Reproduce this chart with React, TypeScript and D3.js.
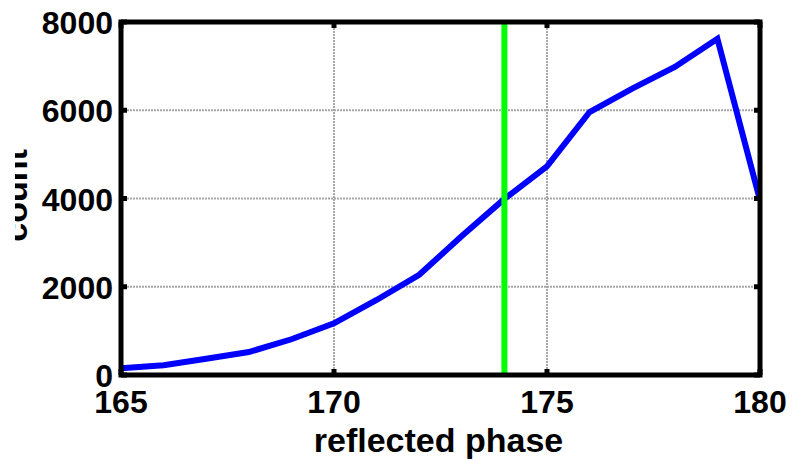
import React from "react";
import * as d3 from "d3";

// Histogram of reflected phase (degrees) and the per-degree counts
const phases = [165, 166, 167, 168, 169, 170, 171, 172, 173, 174, 175, 176, 177, 178, 179, 180];
const counts = [150, 220, 370, 520, 810, 1170, 1700, 2270, 3150, 3990, 4730, 5960, 6490, 6980, 7620, 3960];
const xTicks = [165, 170, 175, 180];
const yTicks = [0, 2000, 4000, 6000, 8000];
const marker = 174;

const W = 792;
const H = 462;
const M = { left: 121, top: 22, right: 32, bottom: 87 };
const FONT = "'Liberation Sans', Arial, Helvetica, sans-serif";

export default function App() {
  const x = d3.scaleLinear().domain([165, 180]).range([M.left, W - M.right]);
  const y = d3.scaleLinear().domain([0, 8000]).range([H - M.bottom, M.top]);
  const [x0, x1] = x.range();
  const [y0, y1] = y.range();

  const line = d3
    .line<number>()
    .x((_, i) => x(phases[i]))
    .y((d) => y(d));

  return (
    <svg
      width={W}
      height={H}
      style={{ position: "absolute", left: 0, top: 0, background: "#fff" }}
      fontFamily={FONT}
      fontWeight="bold"
    >
      <defs>
        <clipPath id="plotClip">
          <rect x={x0} y={y1} width={x1 - x0} height={y0 - y1} />
        </clipPath>
        <clipPath id="ylabClip">
          <rect x={15} y={0} width={W} height={H} />
        </clipPath>
      </defs>

      {/* dotted grid */}
      <g stroke="#a8a8a8" strokeWidth={2} strokeDasharray="2,1">
        {xTicks.slice(1, -1).map((t) => (
          <line key={"gx" + t} x1={x(t)} x2={x(t)} y1={y1} y2={y0} />
        ))}
        {yTicks.slice(1, -1).map((t) => (
          <line key={"gy" + t} x1={x0} x2={x1} y1={y(t)} y2={y(t)} />
        ))}
      </g>

      {/* counts curve */}
      <path
        d={line(counts) || ""}
        fill="none"
        stroke="#0000ff"
        strokeWidth={6}
        strokeLinejoin="miter"
        clipPath="url(#plotClip)"
      />

      {/* marker at selected phase */}
      <line x1={x(marker)} x2={x(marker)} y1={y1} y2={y0} stroke="#00ff00" strokeWidth={6} />

      {/* frame */}
      <rect x={x0} y={y1} width={x1 - x0} height={y0 - y1} fill="none" stroke="#000" strokeWidth={5} />

      {/* inward ticks */}
      <g stroke="#000" strokeWidth={5}>
        {xTicks.map((t) => (
          <g key={"tx" + t}>
            <line x1={x(t)} x2={x(t)} y1={y0} y2={y0 - 6} />
            <line x1={x(t)} x2={x(t)} y1={y1} y2={y1 + 6} />
          </g>
        ))}
        {yTicks.map((t) => (
          <g key={"ty" + t}>
            <line x1={x0} x2={x0 + 6} y1={y(t)} y2={y(t)} />
            <line x1={x1} x2={x1 - 6} y1={y(t)} y2={y(t)} />
          </g>
        ))}
      </g>

      {/* tick labels */}
      <g fontSize={32} fill="#000">
        {yTicks.map((t) => (
          <text key={"ly" + t} x={x0 - 8} y={y(t) + 12} textAnchor="end">
            {t}
          </text>
        ))}
        {xTicks.map((t) => (
          <text key={"lx" + t} x={x(t)} y={y0 + 38} textAnchor="middle">
            {t}
          </text>
        ))}
      </g>

      {/* axis titles */}
      <text x={(x0 + x1) / 2 - 2} y={452} fontSize={34} textAnchor="middle" fill="#000">
        reflected phase
      </text>
      <g clipPath="url(#ylabClip)">
        <text
          transform={`translate(27,${(y0 + y1) / 2 - 3}) rotate(-90)`}
          fontSize={34}
          textAnchor="middle"
          fill="#000"
        >
          count
        </text>
      </g>
    </svg>
  );
}
